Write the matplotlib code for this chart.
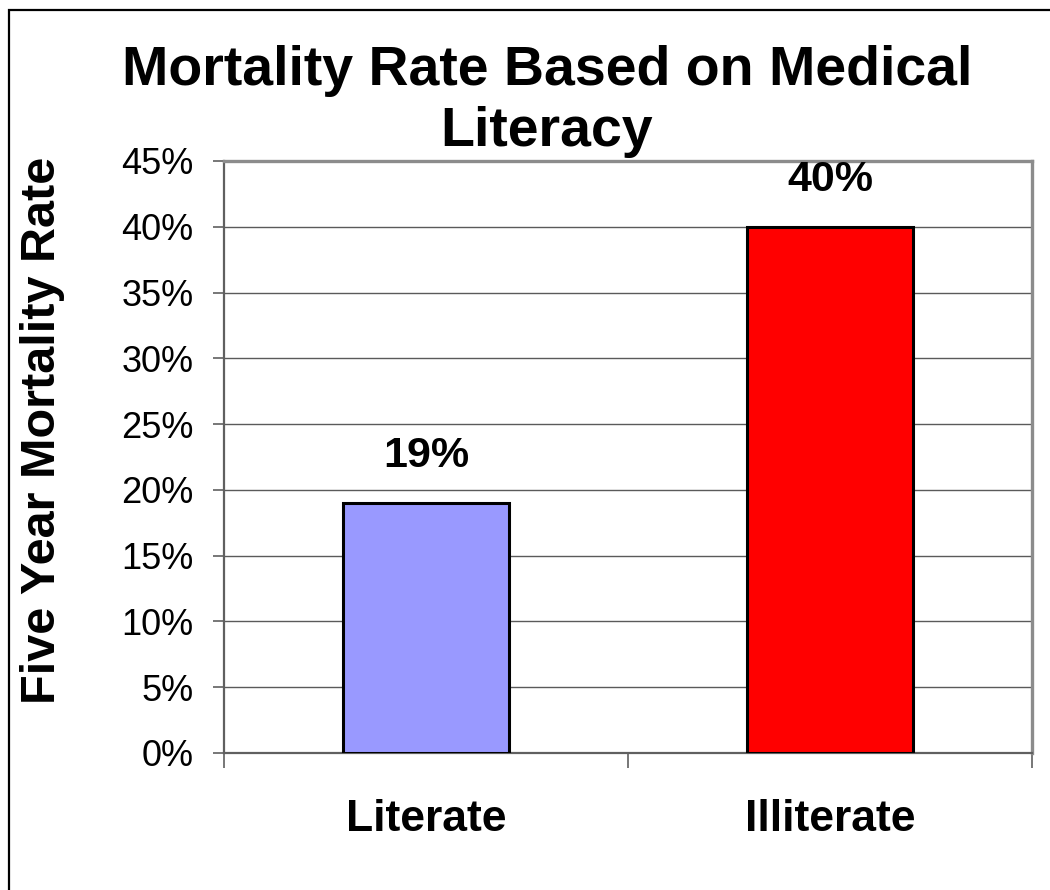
import matplotlib
matplotlib.use("Agg")
import matplotlib.pyplot as plt
from matplotlib.patches import Rectangle
from matplotlib.ticker import PercentFormatter

plt.rcParams["font.family"] = ["Liberation Sans", "DejaVu Sans"]

# Data
groups = ["Literate", "Illiterate"]
mortality = [0.19, 0.40]
bar_colors = ["#9999FF", "#FF0000"]
title_lines = ["Mortality Rate Based on Medical", "Literacy"]

fig = plt.figure(figsize=(10.5, 8.9), dpi=100)
ax = fig.add_axes([224 / 1050, 1 - 753 / 890, 808 / 1050, 592 / 890])

x = list(range(len(groups)))
ax.bar(x, mortality, width=0.41, color=bar_colors, edgecolor="black", linewidth=2.2, zorder=3)

# Data labels above bars
for xi, v in zip(x, mortality):
    ax.annotate(f"{v:.0%}", (xi, v), xytext=(0, 26), textcoords="offset points",
                ha="center", va="baseline", fontsize=31, fontweight="bold")

ax.set_xlim(-0.5, 1.5)
ax.set_ylim(0, 0.45)
ax.set_yticks([i * 0.05 for i in range(10)])
ax.yaxis.set_major_formatter(PercentFormatter(1.0, decimals=0))
ax.tick_params(axis="y", labelsize=26, length=8, width=1.2, color="#606060", pad=14)

ax.set_xticks(x)
ax.set_xticklabels(groups, fontsize=32, fontweight="bold")
ax.set_xticks([-0.5, 0.5, 1.5], minor=True)
ax.tick_params(axis="x", which="major", length=0, pad=33)
ax.tick_params(axis="x", which="minor", length=11, width=1.2, color="#606060")

ax.yaxis.grid(True, color="#5A5A5A", linewidth=1.0, zorder=0)
ax.set_axisbelow(True)

ax.spines["left"].set_color("#606060")
ax.spines["left"].set_linewidth(1.6)
ax.spines["bottom"].set_color("#606060")
ax.spines["bottom"].set_linewidth(1.6)
for s in ["top", "right"]:
    ax.spines[s].set_color("#8C8C8C")
    ax.spines[s].set_linewidth(2.4)

# title, one text per line
fig.text(547 / 1050, 1 - 85 / 890, title_lines[0],
         ha="center", va="baseline", fontsize=40, fontweight="bold")
fig.text(547 / 1050, 1 - 146 / 890, title_lines[1],
         ha="center", va="baseline", fontsize=40, fontweight="bold")
fig.text(43 / 1050, 1 - 430 / 890, "Five Year Mortality Rate", rotation=90,
         ha="center", va="center", fontsize=35, fontweight="bold")

# outer chart border (left and top visible)
fig.patches.append(Rectangle((8.5 / 1050, -0.05), 1.1, 1.05 - 9.5 / 890,
                             transform=fig.transFigure, fill=False,
                             edgecolor="black", linewidth=1.6))

fig.savefig("out.png", dpi=100)
